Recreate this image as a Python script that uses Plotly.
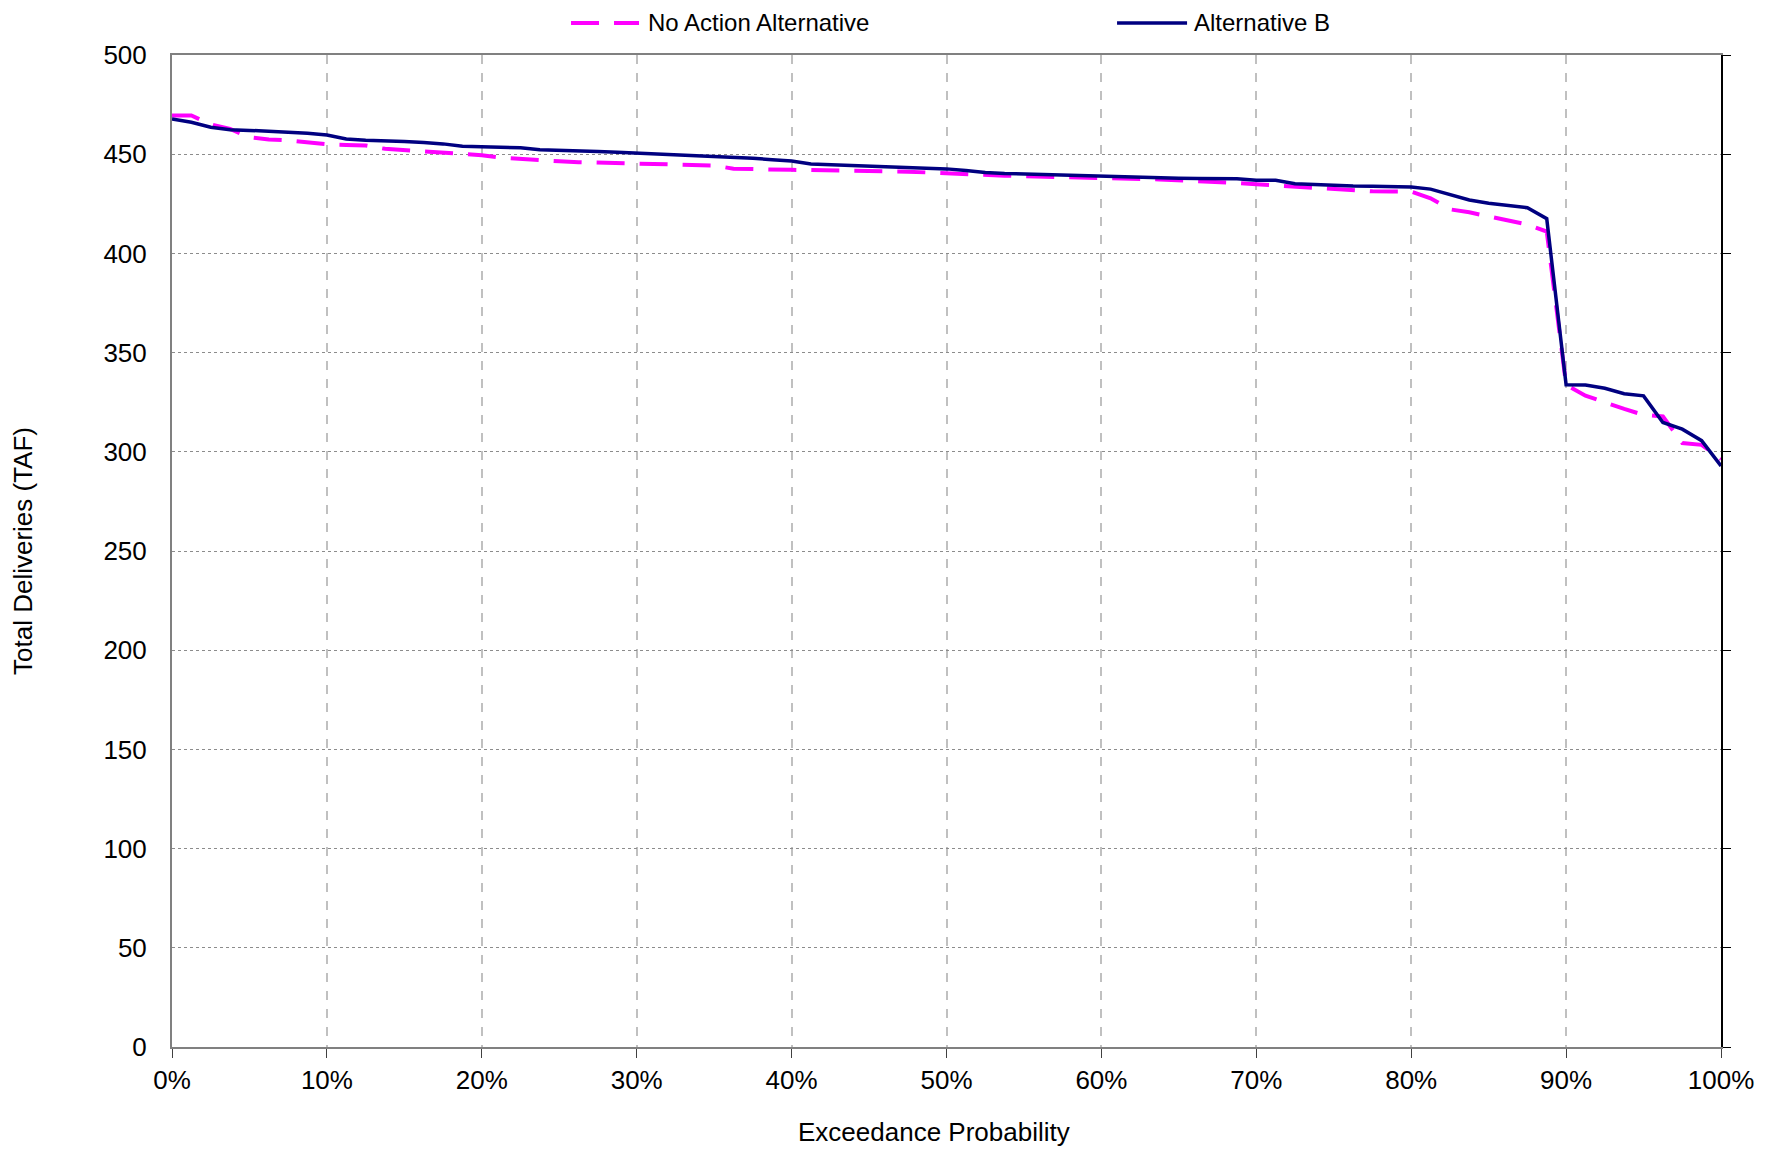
import plotly.graph_objects as go

# Exceedance probability (fraction), 81 ranked values
exceedance = [i / 80 for i in range(81)]

no_action = [
    469.5, 469.5, 465.0, 462.7, 458.5, 457.4, 457.0, 455.8, 455.0, 454.7,
    454.4, 452.7, 452.1, 451.4, 450.8, 450.2, 449.5, 448.2, 447.5, 446.9,
    446.4, 446.0, 445.7, 445.6, 445.4, 445.2, 444.9, 444.6, 444.3, 442.7,
    442.4, 442.3, 442.1, 442.0, 441.9, 441.7, 441.6, 441.5, 441.2, 440.8,
    440.3, 439.8, 439.6, 439.2, 438.9, 438.6, 438.3, 438.0, 437.7, 437.6,
    437.5, 437.3, 436.9, 436.6, 436.2, 435.5, 434.8, 434.2, 433.6, 432.8,
    432.3, 431.8, 431.3, 431.2, 431.1, 427.8, 422.2, 420.7, 418.8, 416.8,
    414.6, 411.0, 333.8, 328.3, 324.8, 321.6, 318.6, 317.8, 304.4, 303.5,
    296.3,
]

alt_b = [
    467.8, 466.1, 463.6, 462.3, 462.0, 461.6, 460.9, 460.6, 459.7, 457.7,
    457.0, 456.8, 456.4, 455.9, 455.2, 454.0, 453.6, 453.3, 453.2, 452.3,
    452.1, 451.9, 451.3, 451.0, 450.6, 450.2, 449.8, 449.3, 448.8, 448.4,
    448.0, 447.2, 446.6, 445.1, 444.8, 444.5, 444.2, 443.9, 443.5, 443.1,
    442.6, 441.8, 440.8, 440.3, 440.0, 439.7, 439.4, 439.1, 438.8, 438.6,
    438.4, 438.0, 437.9, 437.8, 437.7, 437.6, 436.9, 436.9, 435.1, 434.6,
    434.1, 434.0, 433.9, 433.7, 433.5, 432.4, 429.6, 426.9, 425.3, 424.2,
    423.0, 417.5, 333.8, 333.7, 332.0, 329.3, 328.2, 314.8, 311.4, 305.6,
    292.9,
]

series_names = ["No Action Alternative", "Alternative B"]
series_colors = ["#FF00FF", "#000080"]

y_ticks = list(range(0, 501, 50))
x_ticks = [i / 10 for i in range(11)]
x_tick_labels = [f"{i * 10}%" for i in range(11)]

FONT = "Liberation Sans, Arial, sans-serif"
NA_DASH = "28px,15px"

fig = go.Figure()
fig.add_trace(go.Scatter(
    x=exceedance, y=no_action, mode="lines", name=series_names[0],
    line=dict(color=series_colors[0], width=4, dash=NA_DASH),
    showlegend=False,
))
fig.add_trace(go.Scatter(
    x=exceedance, y=alt_b, mode="lines", name=series_names[1],
    line=dict(color=series_colors[1], width=3.5),
    yaxis="y2", showlegend=False,
))

# Legend drawn above the plot (long line samples as in the original)
legend_y = 1.0323
legend_items = [
    (0.2576, 0.3015, 0.3066, series_colors[0], NA_DASH, 4),
    (0.6101, 0.6553, 0.6591, series_colors[1], "solid", 3.5),
]
for (x0, x1, xt, col, dash, w), name in zip(legend_items, series_names):
    fig.add_shape(type="line", xref="paper", yref="paper",
                  x0=x0, x1=x1, y0=legend_y, y1=legend_y,
                  line=dict(color=col, width=w, dash=dash))
    fig.add_annotation(xref="paper", yref="paper", x=xt, y=legend_y,
                       text=name, showarrow=False, xanchor="left",
                       yanchor="middle", borderpad=0,
                       font=dict(size=24, color="black"))

# x-axis title placed as in the original
fig.add_annotation(xref="paper", yref="paper", x=0.492, y=-0.086,
                   text="Exceedance Probability", showarrow=False,
                   xanchor="center", yanchor="middle", borderpad=0,
                   font=dict(size=26, color="black"))

# the page body keeps an 8px margin, so the figure is 16px smaller each way
fig.update_layout(
    width=1757, height=1142,
    margin=dict(l=164, r=44, t=47, b=103, autoexpand=False),
    paper_bgcolor="white", plot_bgcolor="white",
    font=dict(family=FONT, size=26, color="black"),
    showlegend=False,
    xaxis=dict(
        range=[0, 1], tickvals=x_ticks, ticktext=x_tick_labels,
        showgrid=True, gridcolor="#C0C0C0", gridwidth=2, griddash="dash",
        showline=True, linecolor="#808080", linewidth=2, mirror=True,
        ticks="outside", ticklen=9, tickcolor="#404040", tickwidth=1,
        zeroline=False, ticklabelstandoff=0, automargin=False,
    ),
    yaxis=dict(
        range=[0, 500], tickvals=y_ticks,
        showgrid=True, gridcolor="#8C8C8C", gridwidth=1, griddash="dot",
        showline=True, linecolor="#808080", linewidth=2,
        ticks="", zeroline=False, ticklabelstandoff=18, automargin=False,
        title=dict(text="Total Deliveries (TAF)", standoff=63,
                   font=dict(size=26)),
    ),
    yaxis2=dict(
        range=[0, 500], tickvals=y_ticks, overlaying="y", side="right",
        matches="y", showgrid=False, showticklabels=False,
        showline=True, linecolor="#000000", linewidth=2, automargin=False,
        ticks="outside", ticklen=8, tickcolor="#000000", zeroline=False,
    ),
)

fig.write_html("out.html")
